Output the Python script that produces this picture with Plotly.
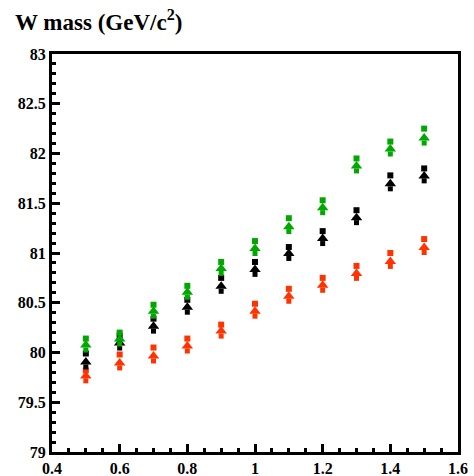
import plotly.graph_objects as go

# Generator-level energy scale points
x_vals = [0.5, 0.6, 0.7, 0.8, 0.9, 1.0, 1.1, 1.2, 1.3, 1.4, 1.5]

# W mass (GeV/c^2): square and arrow markers for each colour
green_sq = [80.14, 80.20, 80.48, 80.67, 80.91, 81.12, 81.35, 81.53, 81.95, 82.12, 82.25]
green_tri = [80.06, 80.12, 80.40, 80.59, 80.83, 81.03, 81.25, 81.44, 81.86, 82.03, 82.14]
black_sq = [79.99, 80.17, 80.34, 80.53, 80.75, 80.91, 81.06, 81.22, 81.43, 81.78, 81.85]
black_tri = [79.89, 80.08, 80.25, 80.44, 80.65, 80.82, 80.98, 81.13, 81.34, 81.68, 81.76]
red_sq = [79.82, 79.98, 80.05, 80.14, 80.28, 80.49, 80.64, 80.75, 80.87, 81.00, 81.14]
red_tri = [79.75, 79.88, 79.95, 80.05, 80.20, 80.40, 80.55, 80.66, 80.78, 80.90, 81.04]

x_ticks = [0.4, 0.6, 0.8, 1.0, 1.2, 1.4, 1.6]
x_ticktext = ["0.4", "0.6", "0.8", "1", "1.2", "1.4", "1.6"]
y_ticks = [79, 79.5, 80, 80.5, 81, 81.5, 82, 82.5, 83]
y_ticktext = ["79", "79.5", "80", "80.5", "81", "81.5", "82", "82.5", "83"]

GREEN = "#00a800"
BLACK = "#000000"
RED = "#ff3300"

# arrow glyph = triangle head plus a short stem just below it (offsets in y units)
HEAD_LIFT = 0.015
STEM_DROP = 0.035

fig = go.Figure()

series = [
    (red_sq, red_tri, RED),
    (black_sq, black_tri, BLACK),
    (green_sq, green_tri, GREEN),
]
for sq, tri, col in series:
    fig.add_trace(go.Scatter(
        x=x_vals, y=[v - STEM_DROP for v in tri], mode="markers",
        marker=dict(symbol="square", size=5, color=col, line=dict(width=0)),
        showlegend=False, cliponaxis=False, hoverinfo="skip",
    ))
    fig.add_trace(go.Scatter(
        x=x_vals, y=[v + HEAD_LIFT for v in tri], mode="markers",
        marker=dict(symbol="triangle-up", size=10, color=col, line=dict(width=0)),
        showlegend=False, cliponaxis=False,
    ))
    fig.add_trace(go.Scatter(
        x=x_vals, y=sq, mode="markers",
        marker=dict(symbol="square", size=6, color=col, line=dict(width=0)),
        showlegend=False, cliponaxis=False,
    ))

tickfont = dict(family="Liberation Serif", size=16, color="black", weight="bold")

fig.update_xaxes(
    range=[0.4, 1.6], showgrid=False, zeroline=False, automargin=False,
    showline=True, linewidth=3, linecolor="black", mirror=True,
    ticks="inside", ticklen=8, tickwidth=3, tickcolor="black",
    tickvals=x_ticks, ticktext=x_ticktext, tickfont=tickfont,
    minor=dict(dtick=0.05, ticks="inside", ticklen=4, tickwidth=3, tickcolor="black", showgrid=False),
)
fig.update_yaxes(
    range=[79, 83], showgrid=False, zeroline=False, automargin=False,
    showline=True, linewidth=3, linecolor="black", mirror=True,
    ticks="inside", ticklen=8, tickwidth=3, tickcolor="black",
    tickvals=y_ticks, ticktext=y_ticktext, tickfont=tickfont,
    minor=dict(dtick=0.1, ticks="inside", ticklen=4, tickwidth=3, tickcolor="black", showgrid=False),
)

fig.add_annotation(
    text="W mass (GeV/c<sup>2</sup>)", xref="paper", yref="paper",
    x=-0.095, y=1.125, xanchor="left", yanchor="top", showarrow=False,
    font=dict(family="Liberation Serif", size=23, color="black", weight="bold"),
)

fig.update_layout(
    width=474, height=476,
    margin=dict(l=52, r=16, t=54, b=24, autoexpand=False),
    paper_bgcolor="white", plot_bgcolor="white",
)

fig.write_html("out.html")
